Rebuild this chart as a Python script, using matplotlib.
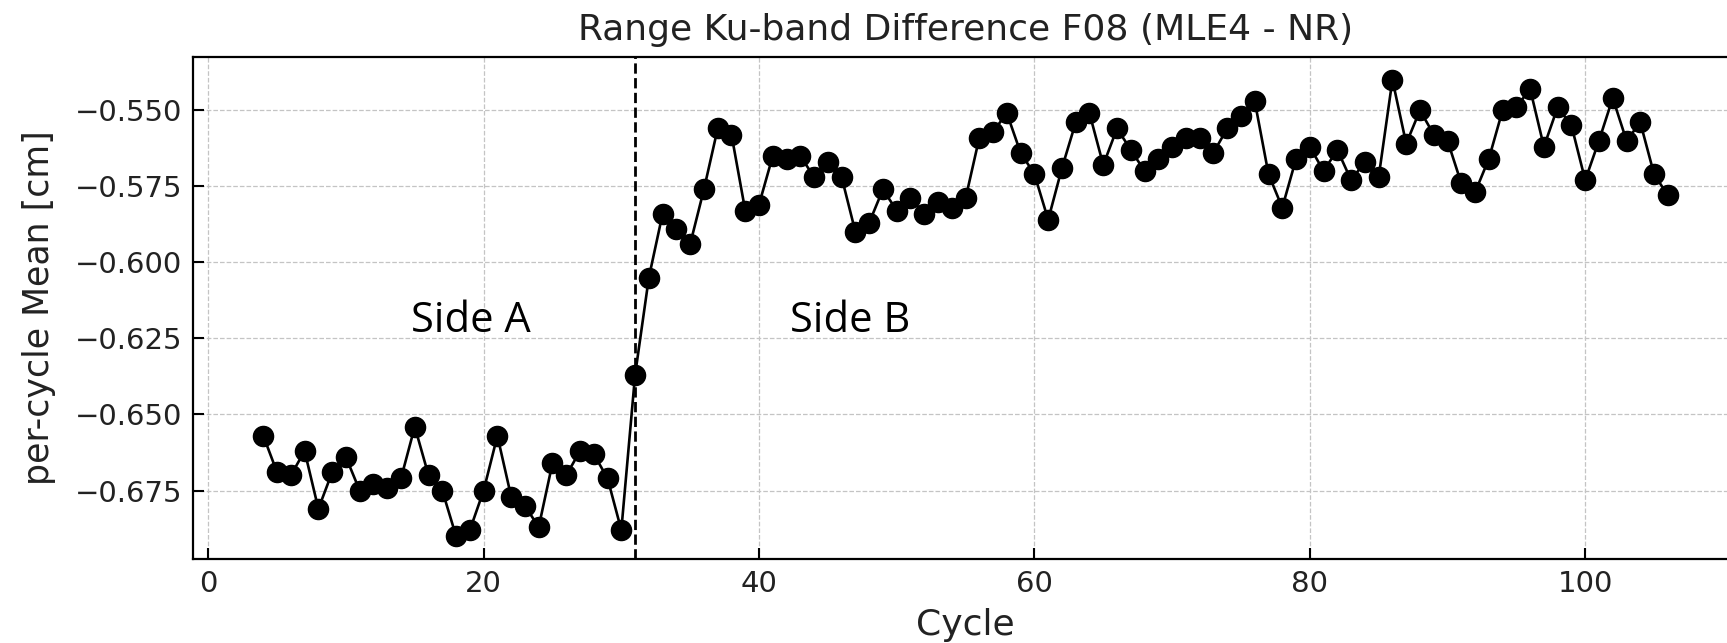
#!/usr/bin/env python3
import numpy as np
import matplotlib
matplotlib.use("Agg")
import matplotlib.pyplot as plt
from matplotlib.ticker import MultipleLocator

# per-cycle mean of the Ku-band range difference (MLE4 - NR), cm
cycles = np.arange(4, 107)
side_a = [-0.657, -0.669, -0.670, -0.662, -0.681, -0.669, -0.664, -0.675, -0.673,
          -0.674, -0.671, -0.654, -0.670, -0.675, -0.690, -0.688, -0.675, -0.657,
          -0.677, -0.680, -0.687, -0.666, -0.670, -0.662, -0.663, -0.671, -0.688]
side_b = [-0.637, -0.605, -0.584, -0.589, -0.594, -0.576, -0.556, -0.558, -0.583,
          -0.581, -0.565, -0.566, -0.565, -0.572, -0.567, -0.572, -0.590, -0.587,
          -0.576, -0.583, -0.579, -0.584, -0.580, -0.582, -0.579, -0.559, -0.557,
          -0.551, -0.564, -0.571, -0.586, -0.569, -0.554, -0.551, -0.568, -0.556,
          -0.563, -0.570, -0.566, -0.562, -0.559, -0.559, -0.564, -0.556, -0.552,
          -0.547, -0.571, -0.582, -0.566, -0.562, -0.570, -0.563, -0.573, -0.567,
          -0.572, -0.540, -0.561, -0.550, -0.558, -0.560, -0.574, -0.577, -0.566,
          -0.550, -0.549, -0.543, -0.562, -0.549, -0.555, -0.573, -0.560, -0.546,
          -0.560, -0.554, -0.571, -0.578]
values = side_a + side_b
switch_cycle = 31

fig = plt.figure(figsize=(17.27, 6.43), dpi=100)
ax = fig.add_axes([0.1118, 0.1306, 0.8946, 0.7808])

ax.plot(cycles, values, color="black", linewidth=1.9, marker="o", markersize=14.5)
ax.axvline(switch_cycle, color="black", linestyle="--", linewidth=2.0)

ax.text(19.1, -0.6194, "Side A", fontsize=30, family="Open Sans",
        ha="center", va="center")
ax.text(46.6, -0.6194, "Side B", fontsize=30, family="Open Sans",
        ha="center", va="center")

ax.set_title("Range Ku-band Difference F08 (MLE4 - NR)", fontsize=26,
             color="#222222", pad=12)
ax.set_xlabel("Cycle", fontsize=26, color="#222222", labelpad=7)
ax.set_ylabel("per-cycle Mean [cm]", fontsize=25, color="#222222", labelpad=13)
ax.yaxis.set_major_locator(MultipleLocator(0.025))
ax.tick_params(direction="in", length=8, width=1.5, labelsize=21,
               labelcolor="#222222", pad=8)
ax.grid(True, color="#c4c4c4", linestyle="--", linewidth=0.9)
for s in ax.spines.values():
    s.set_linewidth(1.6)

fig.savefig("out.png", dpi=100)
